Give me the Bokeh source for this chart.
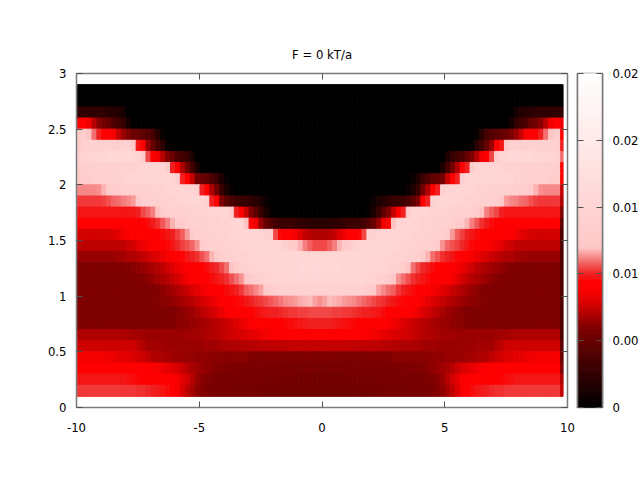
import numpy as np
from bokeh.embed import file_html
from bokeh.layouts import row
from bokeh.models import ColumnDataSource, FixedTicker, LinearAxis, LinearColorMapper, Range1d
from bokeh.plotting import figure
from bokeh.resources import INLINE
from bokeh.transform import transform

TITLE = "F = 0 kT/a"
X_TICKS = [-10, -5, 0, 5, 10]
X_LABELS = {-10: "-10", -5: "-5", 0: "0", 5: "5", 10: "10"}
Y_TICKS = [0, 0.5, 1, 1.5, 2, 2.5, 3]
Y_LABELS = {0: "0", 0.5: "0.5", 1: "1", 1.5: "1.5", 2: "2", 2.5: "2.5", 3: "3"}
CB_TICKS = [0, 5, 10, 15, 20, 25]
CB_LABELS = {0: "0", 5: "0.00", 10: "0.01", 15: "0.01", 20: "0.02", 25: "0.02"}

# palette knots (value in 1e-3, colour)
PAL_V = [0, 2, 4, 6, 7, 8, 9, 9.4, 10, 11, 12, 25]
PAL_R = [0, 0x28, 0x50, 0x80, 0xb0, 0xe0, 0xff, 0xff, 0xf0, 0xf4, 0xff, 0xff]
PAL_G = [0, 0, 0, 0, 0, 0, 0, 0, 0x20, 0x70, 0xc8, 0xff]

# top edge of each row of cells
ROW_TOP = [2.9, 2.8, 2.7, 2.6, 2.5, 2.4, 2.3, 2.2, 2.1, 2.0, 1.9, 1.8, 1.7, 1.6,
           1.5, 1.4, 1.3, 1.2, 1.1, 1.0, 0.9, 0.8, 0.7, 0.6, 0.5, 0.4, 0.3, 0.2]

# left half of each row, 50 cells up to the centre, value in 1e-3
HALF = [
 [0]*50,
 [0]*50,
 [2.5,2.5,2.5,2.5,2.5,2.3,2.1,2,1.8,1.2]+[0]*40,
 [9,9,8.5,7.2,6.2,5.5,5,4,3.5,2.5,1]+[0]*39,
 [13,13,12,11,10,9.2,9,8.8,7.5,6.6,6,5.2,5,4.5,4.2,3.5,2,0.5]+[0]*32,
 [13,13.5,14,14,14,14,14,14,14,14,14,12.5,9.8,9,6.5,5,3.5,2.2,0.5]+[0]*31,
 [14,14.5,15,15,15.5,15.5,16,16,16,16,16,15.5,15,13,10.5,9.2,8.5,7.2,6,5,4,3.5,2.8,1.5]+[0]*26,
 [13,13.5,13.5,14,14,14,14,14,14.5,14.5,14.5,14.5,15,15,15,15,15,15,13,10,9,7,5.5,3.5,1.5]+[0]*25,
 [13,13,13,13.5,13.5,14,14,14,14.5,14.5,15,15,15,15,15.5,15.5,15.5,15.5,15.5,15,13.5,10,9,7.5,5.5,5,4.5,4,3.2,1.5,0.5]+[0]*19,
 [11.3,11.3,11.3,11.3,11.4,11.8,12.5,13,13,13.5,13.5,14,14,14,14,14.5,14.5,14.5,15,15,15,15,15,15,14,10,9.2,7,5.5,3,1.5,0.5]+[0]*18,
 [10.3]*5+[10.4,10.6,10.9,11,11.2,11.3,11.5,12.5,13.5,14,14,14,14,14.5,14.5,15,15,15,15.5,15.5,15.5,14.5,10,9,6,4.5,3.8,3.2,3,2.8,2.5,2,1.5,0.8,0.2]+[0]*10,
 [9.8]*12+[10,10.5,10.8,11.2,12,13,13.5,14,14,14,14,14.5,14.5,14.5,14.5,15,15,15,15,13,10,9,7.5,6,4.5,3,1.5,0.5]+[0]*10,
 [9]*13+[9.3,9.6,9.9,10.2,10.7,11.2,11.8,12.5,13,13.5,14,14,14,14.5,14.5,14.5,15,15,15,15,15,12,9.5,8.5,6.5,5,4.2,3.5,3,3,3,2.8,2.5,2.3,2.2,2,2],
 [7.8]*7+[8,8.2,8.6,8.9,9,9,9.1,9.2,9.3,9.4,9.6,9.8,10,10.4,10.8,11.5,12.5,13.5,14,14,14,14.5,14.5,14.5,15,15,15,15,15,15,15,14.5,14,10.5,9.5,9.2,9,8.5,8,7.5,7.2,7,7],
 [7.3]*9+[7.4,7.6,7.8,8.2,8.4,8.7,9,9.1,9.2,9.5,9.8,10.1,10.4,10.6,10.9,11.4,12.5,13.5,14,14,14,14.5,14.5,14.5,15,15,15,15.5,15.5,15.5,15,15,15,14,13,12.5,11.8,11.2,10.8,10.5,10.5],
 [6.5]*7+[6.6,6.7,6.8,7,7,7.2,7.4,7.6,7.9,8.1,8.4,8.7,9,9.2,9.5,9.8,10,10.2,10.6,11,11.8,12.5,13.5,14,14,14.5,14.5,14.5,15,15,15,15,15,15.5,15.5,15.5,15.5,15.5,15.5,15.5,15.5,15.5,15.5],
 [6]*10+[6.1,6.2,6.4,6.5,6.7,6.9,7.1,7.3,7.7,8,8.4,8.7,9,9.1,9.2,9.4,9.6,9.9,10.1,10.5,11,12,13,14,14.5,14.5,15,15,15,15,15.5,15.5,15.5,15.5,15.5,16,16,16,16,16],
 [6]*13+[6.1,6.3,6.5,6.8,7,7.2,7.5,7.8,8.2,8.7,9,9.1,9.3,9.4,9.6,9.8,10,10.2,10.6,11,11.4,12.2,13,13.8,14,14.5,14.5,15,15,15,15,15,15,15,15,15,15],
 [6]*16+[6.1,6.3,6.5,6.8,7,7.3,7.6,7.9,8.2,8.5,8.8,9,9.2,9.4,9.6,9.8,10,10.3,10.8,11,11.3,11.6,12.3,13,13.5,14,14,14,14.5,14.5,14.5,14.5,14.5,14.5],
 [6]*16+[6.1,6.2,6.3,6.4,6.6,6.8,7,7.2,7.5,7.8,8,8.3,8.6,9,9.2,9.4,9.5,9.6,9.8,10,10.2,10.3,10.5,10.7,10.9,11.1,11.3,11.4,11.5,11.7,11.8,11.9,11.6,11.4],
 [6]*20+[6.2,6.3,6.5,6.6,6.9,7.2,7.5,7.8,8,8.4,8.8,9,9,9.1,9.2,9.4,9.6,9.8,9.9,10,10,10.1,10.2,10.3,10.3,10.4,10.4,10.5,10.5,10.5],
 [6]*20+[6.2,6.3,6.4,6.5,6.6,6.8,6.9,7.1,7.2,7.4,7.6,7.8,8,8.3,8.6,8.9,9,9,9.1,9.2,9.3,9.4,9.5,9.6,9.7,9.8,9.9,10,10,10],
 [7]*10+[6.9,6.8,6.8,6.7]+[6.6]*8+[6.7,6.7,6.8,6.9,7,7.1,7.2,7.4,7.5,7.7,7.8,7.9,8,8.2,8.3,8.5,8.6,8.8,8.9,9]+[9]*8,
 [7.7]*12+[7.4,7.1,6.8,6.8,6.7,6.7]+[6.6]*8+[6.7,6.7,6.8,6.9,7,7,7,7.1,7.1,7.2,7.2,7.3,7.3,7.4,7.4,7.4,7.4,7.5,7.5,7.5,7.5,7.5,7.5,7.5],
 [8.7]*5+[8.6,8.5,8.4,8.3,8.2,8.1,8,7.8,7.6,7.4,7.1,7,6.9,6.8,6.7,6.6,6.6,6.5,6.5,6.4,6.4,6.3,6.3,6.2]+[6.2]*6+[6]*15,
 [9]*15+[8.9,8.7,8.5,8.3,8.1,7.9,7.6,7.2,6.9,6.7,6.5,6.4,6.2,6.1,6,6,5.9,5.9,5.9,5.8,5.8,5.8,5.8,5.8,5.8,5.8,5.8,5.7,5.7,5.7,5.7,5.7,5.7,5.7,5.7],
 [9.8]*10+[9.7,9.6,9.5,9.4,9.3,9.2,9.1,9,9,9,8.8,8.2,7.8,7.2,6.6,6.2,6,5.9,5.8,5.8,5.7,5.7,5.7,5.7,5.7,5.7,5.7,5.6,5.6,5.6,5.6,5.6,5.6,5.6,5.5,5.5,5.5,5.5,5.5,5.5],
 [10.3]*12+[10.2,10.2,10.1,10,9.9,9.8,9.6,9.4,8.8,8,7.4,6.8,6.3,6.1,5.9,5.8,5.7,5.7,5.7,5.6,5.6,5.6,5.6,5.6,5.6,5.5,5.5,5.5,5.5,5.5,5.4,5.4,5.4,5.4,5.4,5.4,5.4,5.4],
]
# narrow strip at the right edge of each row
EDGE = [0,0,2.5,8.5,9,10,11,9,9,7.5,7,6,4.5,4,4,4,4,4,4,4,4,4,4,4.5,5,6,7,7.5]

X0 = -9.97
DX = 0.2
STRIP_START = 9.72
DATA_END = 9.82
DY = 0.1

bad = [(i, len(r)) for i, r in enumerate(HALF) if len(r) != 50]
assert not bad, bad

pal_v = np.array(PAL_V)
levels = np.linspace(0, 25, 256)
palette = ["#%02x%02x%02x" % (int(r), int(g), int(g))
           for r, g in zip(np.interp(levels, pal_v, PAL_R), np.interp(levels, pal_v, PAL_G))]
mapper = LinearColorMapper(palette=palette, low=0, high=25)

left, right, bottom, top, vals = [], [], [], [], []
for y_top, half, edge in zip(ROW_TOP, HALF, EDGE):
    full = list(half) + list(half[-2::-1])
    edges = [X0 + DX * i for i in range(len(full))] + [STRIP_START]
    for i, v in enumerate(full):
        left.append(edges[i]); right.append(edges[i + 1])
        bottom.append(y_top - DY); top.append(y_top); vals.append(v)
    left.append(STRIP_START); right.append(DATA_END)
    bottom.append(y_top - DY); top.append(y_top); vals.append(edge)

FONT = "DejaVu Sans"
FS = "11.7px"
BORDER = "#7a7a7a"
TICK = "#505050"


def style(ax, standoff=10):
    ax.axis_line_color = BORDER
    ax.axis_line_width = 1.5
    ax.major_tick_in = 6
    ax.major_tick_out = 0
    ax.minor_tick_line_color = None
    ax.major_tick_line_color = TICK
    ax.major_label_text_font = FONT
    ax.major_label_text_font_size = FS
    ax.major_label_text_color = "#000000"
    ax.major_label_standoff = standoff


p = figure(width=576, height=467, output_backend="svg", toolbar_location=None,
           x_range=Range1d(-10, 10), y_range=Range1d(0, 3),
           min_border_left=76, min_border_right=9, min_border_top=73, min_border_bottom=60,
           title=TITLE)
p.frame_width = 491
p.frame_height = 334
p.grid.visible = False
p.outline_line_color = None
p.background_fill_color = "#ffffff"
p.title.align = "center"
p.title.text_font = FONT
p.title.text_font_size = FS
p.title.text_font_style = "normal"
p.title.text_color = "#000000"
p.title.standoff = 23

src = ColumnDataSource(dict(left=left, right=right, bottom=bottom, top=top, v=vals))
p.quad(left="left", right="right", bottom="bottom", top="top", source=src,
       fill_color=transform("v", mapper), line_color=transform("v", mapper), line_width=1)

style(p.xaxis[0], 15)
p.xaxis[0].ticker = FixedTicker(ticks=X_TICKS)
p.xaxis[0].major_label_overrides = X_LABELS
style(p.yaxis[0])
p.yaxis[0].ticker = FixedTicker(ticks=Y_TICKS)
p.yaxis[0].major_label_overrides = Y_LABELS

top_ax = LinearAxis(ticker=FixedTicker(ticks=X_TICKS), major_label_overrides={v: "" for v in X_TICKS})
style(top_ax)
p.add_layout(top_ax, "above")
right_ax = LinearAxis(ticker=FixedTicker(ticks=Y_TICKS), major_label_overrides={v: "" for v in Y_TICKS})
style(right_ax)
p.add_layout(right_ax, "right")

c = figure(width=64, height=467, output_backend="svg", toolbar_location=None,
           x_range=Range1d(0, 1), y_range=Range1d(0, 25),
           min_border_left=1, min_border_right=38, min_border_top=73, min_border_bottom=60)
c.frame_width = 25
c.frame_height = 334
c.grid.visible = False
c.outline_line_color = BORDER
c.outline_line_width = 1.5
step = levels[1] - levels[0]
c.quad(left=0, right=1, bottom=levels - step / 2, top=levels + step / 2,
       fill_color=palette, line_color=palette, line_width=1)
c.xaxis.visible = False
c.yaxis[0].ticker = FixedTicker(ticks=CB_TICKS)
c.yaxis[0].major_label_overrides = {v: "" for v in CB_TICKS}
style(c.yaxis[0])
cb_right = LinearAxis(ticker=FixedTicker(ticks=CB_TICKS), major_label_overrides=CB_LABELS)
style(cb_right)
c.add_layout(cb_right, "right")

layout = row(p, c)
open("out.html", "w").write(file_html(layout, INLINE))
